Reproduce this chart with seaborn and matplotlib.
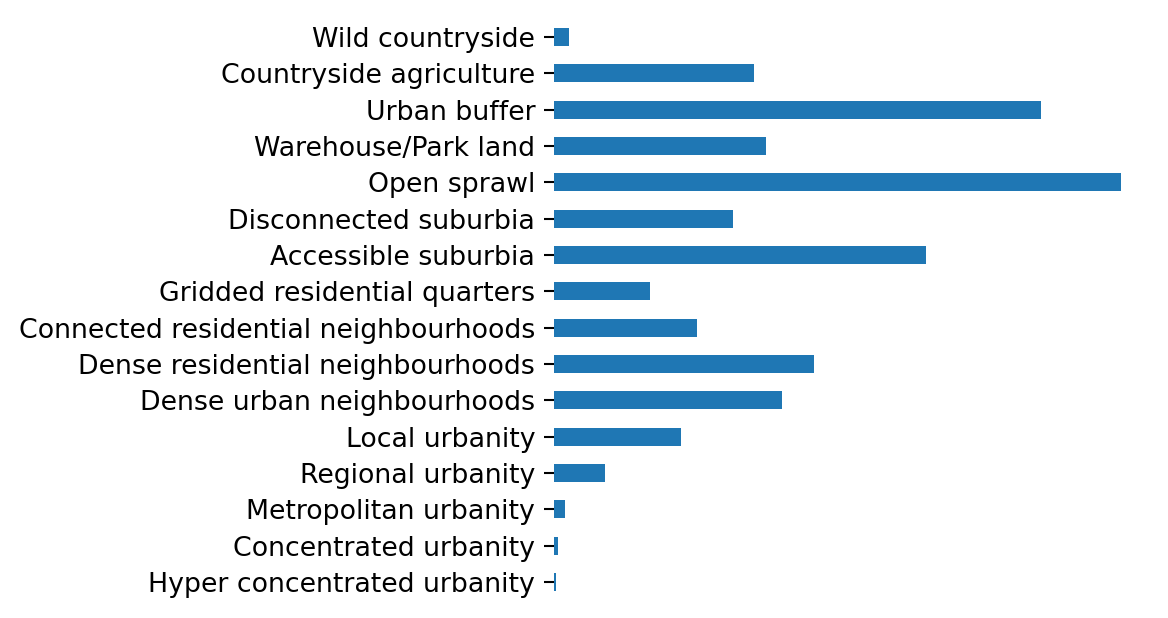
import matplotlib
matplotlib.use("Agg")
import matplotlib.pyplot as plt
import seaborn as sns
import pandas as pd

# category labels, top to bottom as shown
categories = [
    "Wild countryside",
    "Countryside agriculture",
    "Urban buffer",
    "Warehouse/Park land",
    "Open sprawl",
    "Disconnected suburbia",
    "Accessible suburbia",
    "Gridded residential quarters",
    "Connected residential neighbourhoods",
    "Dense residential neighbourhoods",
    "Dense urban neighbourhoods",
    "Local urbanity",
    "Regional urbanity",
    "Metropolitan urbanity",
    "Concentrated urbanity",
    "Hyper concentrated urbanity",
]
# values (arbitrary units)
values = [15, 200, 487, 212, 567, 179, 372, 96, 143, 260, 228, 127, 51, 11, 4, 2]

df = pd.DataFrame({"category": categories, "value": values})

sns.set_style("white")
fig = plt.figure(figsize=(11.68, 6.18), dpi=100)
ax = fig.add_axes([0.4743, 0.0288, 0.5095, 0.9408])

sns.barplot(data=df, x="value", y="category", orient="h", width=0.5,
            color="#1f77b4", saturation=1, linewidth=0, ax=ax)

ax.set_xlim(0, max(values) * 1.05)
ax.set_ylim(len(categories) - 0.5, -0.5)
ax.set_xlabel("")
ax.set_ylabel("")
ax.set_xticks([])
for s in ax.spines.values():
    s.set_visible(False)
ax.tick_params(axis="y", left=True, length=7, width=1.5, labelsize=19.3,
               pad=6.5, colors="black", labelcolor="black")

fig.savefig("out.png", dpi=100)
